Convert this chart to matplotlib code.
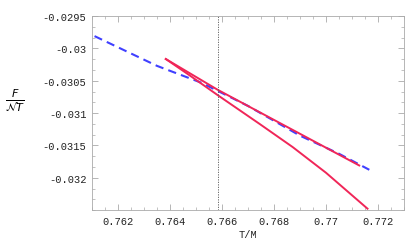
import matplotlib
matplotlib.use("Agg")
import matplotlib.pyplot as plt
from matplotlib.ticker import MultipleLocator, AutoMinorLocator

# blue dashed branch
t_blue = [0.7611, 0.7635, 0.7652, 0.7670, 0.7690, 0.7705, 0.77166]
f_blue = [-0.02981, -0.03027, -0.03053, -0.03089, -0.03135, -0.03163, -0.031877]

# red branches (meet at the cusp on the left)
t_red_up = [0.763839, 0.76582, 0.767441, 0.771272]
f_red_up = [-0.030164, -0.030637, -0.030986, -0.03181]
t_red_lo = [0.763839, 0.764759, 0.76582, 0.767441, 0.768716, 0.769996, 0.77159]
f_red_lo = [-0.030164, -0.030418, -0.030719, -0.031167, -0.031526, -0.031923, -0.032478]

t_c = 0.76584

xticks = [0.762, 0.764, 0.766, 0.768, 0.77, 0.772]
xlabels = ["0.762", "0.764", "0.766", "0.768", "0.77", "0.772"]
yticks = [-0.0295, -0.03, -0.0305, -0.031, -0.0315, -0.032]
ylabels = ["-0.0295", "-0.03", "-0.0305", "-0.031", "-0.0315", "-0.032"]

mono = "Liberation Mono"

fig = plt.figure(figsize=(4.05, 2.51), dpi=100)
ax = fig.add_axes([0.227, 0.159, 0.771, 0.773])

ax.plot(t_blue, f_blue, color="#4040ff", lw=1.5, dashes=(4, 2.5))
ax.plot(t_red_up, f_red_up, color="#f02658", lw=1.4)
ax.plot(t_red_lo, f_red_lo, color="#f02658", lw=1.4)
ax.axvline(t_c, color="#555555", lw=0.6, ls=(0, (1.5, 1.5)))

ax.set_xlim(0.761, 0.773)
ax.set_ylim(-0.0325, -0.0295)
ax.set_xticks(xticks)
ax.set_xticklabels(xlabels, family=mono, fontsize=7.5)
ax.set_yticks(yticks)
ax.set_yticklabels(ylabels, family=mono, fontsize=7.5)
ax.xaxis.set_minor_locator(MultipleLocator(0.0005))
ax.yaxis.set_minor_locator(AutoMinorLocator(3))
ax.tick_params(which="both", direction="in", top=True, right=True, color="#aaaaaa", labelcolor="#222222")
ax.tick_params(which="major", length=4, width=0.6, pad=4)
ax.tick_params(which="minor", length=2, width=0.5)
for s in ax.spines.values():
    s.set_color("#aaaaaa")
    s.set_linewidth(0.6)

fig.text(0.612, 0.063, "T/M", family=mono, fontsize=7.5, ha="center", va="center", color="#222222")
fig.text(0.037, 0.6, r"$\frac{F}{\mathcal{N}T}$", fontsize=11.5, ha="center", va="center")

fig.savefig("out.png", dpi=100)
